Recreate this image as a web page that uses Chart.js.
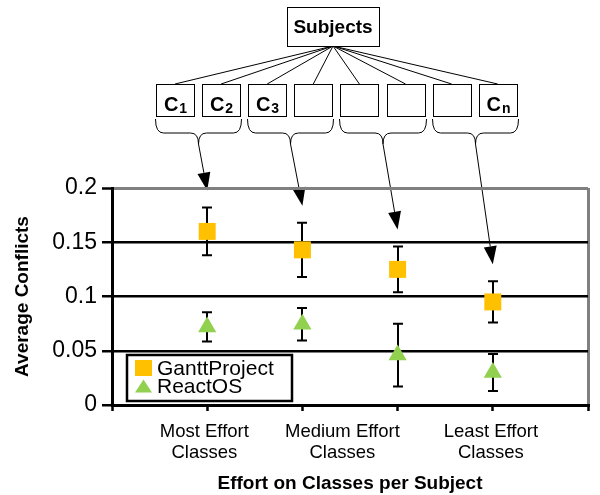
<!DOCTYPE html>
<html>
<head>
<meta charset="utf-8">
<script src="https://cdn.jsdelivr.net/npm/chart.js@4/dist/chart.umd.min.js"></script>
<style>
  html, body { margin: 0; padding: 0; background: #fff; }
  canvas { display: block; }
</style>
</head>
<body>
<canvas id="chart" width="600" height="495"></canvas>
<script>
// ---- data ----
const seriesNames = ['GanttProject', 'ReactOS'];
const groupPositions = [1, 2, 3, 4];
const ganttMeans = [0.160, 0.143, 0.125, 0.095];
const ganttErrors = [0.022, 0.025, 0.021, 0.019];
const reactMeans = [0.072, 0.0745, 0.046, 0.030];
const reactErrors = [0.0135, 0.015, 0.029, 0.017];
const categoryLabels = [['Most Effort', 'Classes'], ['Medium Effort', 'Classes'], ['Least Effort', 'Classes']];
const categoryPositions = [0.97, 2.42, 3.98];
const xMarkTicks = [0, 1, 2, 3, 4, 5];
const yTicks = [0, 0.05, 0.1, 0.15, 0.2];
const rootLabel = 'Subjects';
const classNames = [['C', '1'], ['C', '2'], ['C', '3'], ['', ''], ['', ''], ['', ''], ['', ''], ['C', 'n']];

const FONT = "'Liberation Sans', Arial, Helvetica, sans-serif";
const GANTT_COLOR = '#FFC000';
const REACT_COLOR = '#92D050';

function isMark(v) { return xMarkTicks.some(t => Math.abs(t - v) < 1e-9); }

// subject -> classes diagram above the plot, with arrows into each effort group
const subjectDiagram = {
  id: 'subjectDiagram',
  beforeDraw(chart) {
    const ctx = chart.ctx;
    const xs = chart.scales.x, ys = chart.scales.y;
    ctx.save();
    ctx.fillStyle = '#fff';
    ctx.fillRect(0, 0, chart.width, chart.height);
    ctx.strokeStyle = '#000';
    ctx.fillStyle = '#000';
    ctx.lineWidth = 1;

    const root = { x: 287, y: 7, w: 92, h: 39 };
    const boxTop = 84, boxH = 32, boxW = 38, boxStep = 46.1, boxLeft = 156;
    const hubX = root.x + root.w / 2, hubY = root.y + root.h;

    // fan-out lines
    classNames.forEach((_, i) => {
      const cx = boxLeft + i * boxStep + boxW / 2;
      ctx.beginPath();
      ctx.moveTo(hubX, hubY);
      ctx.lineTo(cx, boxTop);
      ctx.stroke();
    });

    // root box
    ctx.fillStyle = '#fff';
    ctx.fillRect(root.x + 0.5, root.y + 0.5, root.w, root.h);
    ctx.strokeRect(root.x + 0.5, root.y + 0.5, root.w, root.h);
    ctx.fillStyle = '#000';
    ctx.font = 'bold 19px ' + FONT;
    ctx.textAlign = 'center';
    ctx.textBaseline = 'middle';
    ctx.fillText(rootLabel, hubX, root.y + root.h / 2 + 1);

    // class boxes
    classNames.forEach((name, i) => {
      const x = Math.round(boxLeft + i * boxStep) + 0.5;
      ctx.strokeRect(x, boxTop + 0.5, boxW, boxH);
      if (name[0]) {
        ctx.textAlign = 'left';
        ctx.textBaseline = 'alphabetic';
        ctx.font = 'bold 20px ' + FONT;
        const w1 = ctx.measureText(name[0]).width;
        ctx.font = 'bold 14px ' + FONT;
        const w2 = ctx.measureText(name[1]).width;
        const sx = x + boxW / 2 - (w1 + w2 + 1) / 2;
        ctx.font = 'bold 20px ' + FONT;
        ctx.fillText(name[0], sx, boxTop + 27);
        ctx.font = 'bold 14px ' + FONT;
        ctx.fillText(name[1], sx + w1 + 1, boxTop + 29);
      }
    });

    // braces grouping pairs of classes, each with an arrow to its group
    const braceTop = 119, braceMid = 133, braceTip = 144, r = 8;
    for (let g = 0; g < classNames.length / 2; g++) {
      const x0 = Math.round(boxLeft + 2 * g * boxStep) - 0.5;
      const x1 = Math.round(boxLeft + (2 * g + 1) * boxStep) + boxW + 1.5;
      const m = (x0 + x1) / 2;
      ctx.beginPath();
      ctx.moveTo(x0, braceTop);
      ctx.quadraticCurveTo(x0, braceMid, x0 + r, braceMid);
      ctx.lineTo(m - r, braceMid);
      ctx.quadraticCurveTo(m, braceMid, m, braceTip);
      ctx.quadraticCurveTo(m, braceMid, m + r, braceMid);
      ctx.lineTo(x1 - r, braceMid);
      ctx.quadraticCurveTo(x1, braceMid, x1, braceTop);
      ctx.stroke();

      const tx = xs.getPixelForValue(groupPositions[g]);
      const ty = ys.getPixelForValue(ganttMeans[g] + ganttErrors[g]) - 17;
      const a = Math.atan2(ty - braceTip, tx - m);
      const hl = 18, hw = 6.5;
      const bx = tx - hl * Math.cos(a), by = ty - hl * Math.sin(a);
      ctx.beginPath();
      ctx.moveTo(m, braceTip);
      ctx.lineTo(bx, by);
      ctx.stroke();
      ctx.beginPath();
      ctx.moveTo(tx, ty);
      ctx.lineTo(bx - hw * Math.sin(a), by + hw * Math.cos(a));
      ctx.lineTo(bx + hw * Math.sin(a), by - hw * Math.cos(a));
      ctx.closePath();
      ctx.fill();
    }
    ctx.restore();
  }
};

// vertical error bars with caps, drawn beneath the markers
const errorBars = {
  id: 'errorBars',
  beforeDatasetsDraw(chart) {
    const ctx = chart.ctx;
    const xs = chart.scales.x, ys = chart.scales.y;
    ctx.save();
    ctx.strokeStyle = '#000';
    ctx.lineWidth = 2;
    chart.data.datasets.forEach(ds => {
      ds.data.forEach((p, i) => {
        const e = ds.errors[i];
        const x = Math.round(xs.getPixelForValue(p.x));
        const yt = ys.getPixelForValue(p.y + e);
        const yb = ys.getPixelForValue(p.y - e);
        ctx.beginPath();
        ctx.moveTo(x, yt); ctx.lineTo(x, yb);
        ctx.moveTo(x - 5, yt); ctx.lineTo(x + 5, yt);
        ctx.moveTo(x - 5, yb); ctx.lineTo(x + 5, yb);
        ctx.stroke();
      });
    });
    ctx.restore();
  }
};

// boxed legend sitting inside the lower-left of the plot
const boxedLegend = {
  id: 'boxedLegend',
  afterDraw(chart) {
    const ctx = chart.ctx;
    const L = 127, T = 355, W = 165, H = 46;
    ctx.save();
    ctx.fillStyle = '#fff';
    ctx.fillRect(L, T, W, H);
    ctx.strokeStyle = '#000';
    ctx.lineWidth = 2.5;
    ctx.strokeRect(L, T, W, H);
    ctx.font = '21px ' + FONT;
    ctx.textAlign = 'left';
    ctx.textBaseline = 'middle';
    chart.data.datasets.forEach((ds, i) => {
      const cy = T + 13 + i * 18.5;
      ctx.fillStyle = ds.backgroundColor;
      if (ds.pointStyle === 'rect') {
        ctx.fillRect(L + 8, cy - 8, 17, 16);
      } else {
        ctx.beginPath();
        ctx.moveTo(L + 16.5, cy - 7);
        ctx.lineTo(L + 25, cy + 6);
        ctx.lineTo(L + 8, cy + 6);
        ctx.closePath();
        ctx.fill();
      }
      ctx.fillStyle = '#000';
      ctx.fillText(ds.label, L + 30, cy + 1);
    });
    ctx.restore();
  }
};

const xTickValues = [...xMarkTicks, ...categoryPositions].sort((a, b) => a - b);

new Chart(document.getElementById('chart'), {
  type: 'scatter',
  data: {
    datasets: [
      {
        label: seriesNames[0],
        data: groupPositions.map((x, i) => ({ x, y: ganttMeans[i] })),
        errors: ganttErrors,
        pointStyle: 'rect',
        pointRadius: 12,
        pointHoverRadius: 12,
        backgroundColor: GANTT_COLOR,
        borderColor: GANTT_COLOR,
        borderWidth: 0
      },
      {
        label: seriesNames[1],
        data: groupPositions.map((x, i) => ({ x, y: reactMeans[i] })),
        errors: reactErrors,
        pointStyle: 'triangle',
        pointRadius: 10.5,
        pointHoverRadius: 10.5,
        backgroundColor: REACT_COLOR,
        borderColor: REACT_COLOR,
        borderWidth: 0
      }
    ]
  },
  options: {
    responsive: false,
    animation: false,
    devicePixelRatio: 1,
    layout: { padding: { top: 188, right: 9, bottom: 0, left: 0 } },
    plugins: { legend: { display: false }, tooltip: { enabled: false } },
    scales: {
      x: {
        type: 'linear',
        min: 0, max: 5,
        afterBuildTicks: s => { s.ticks = xTickValues.map(v => ({ value: v })); },
        afterFit: s => { s.height = 90; },
        border: { color: '#000', width: 3 },
        grid: {
          color: c => (c.tick && Math.abs(c.tick.value - 5) < 1e-9) ? '#808080' : 'rgba(0,0,0,0)',
          lineWidth: 3,
          tickColor: c => (c.tick && isMark(c.tick.value)) ? '#000' : 'rgba(0,0,0,0)',
          tickWidth: 2.5,
          tickLength: 6
        },
        ticks: {
          autoSkip: false,
          maxRotation: 0,
          minRotation: 0,
          padding: 10,
          color: '#000',
          font: { family: FONT, size: 18.5, lineHeight: 1.16 },
          callback: v => {
            const k = categoryPositions.findIndex(p => Math.abs(p - v) < 1e-9);
            return k >= 0 ? categoryLabels[k] : '';
          }
        },
        title: {
          display: true,
          text: 'Effort on Classes per Subject',
          color: '#000',
          font: { family: FONT, size: 19, weight: 'bold' },
          padding: { top: 0, bottom: 0 }
        }
      },
      y: {
        min: 0, max: 0.2,
        afterBuildTicks: s => { s.ticks = yTicks.map(v => ({ value: v })); },
        afterFit: s => { s.width = 112; },
        border: { color: '#000', width: 3 },
        grid: {
          color: c => (c.tick && Math.abs(c.tick.value - 0.2) < 1e-9) ? '#808080' : '#000',
          lineWidth: c => (c.tick && Math.abs(c.tick.value - 0.2) < 1e-9) ? 3 : 2.5,
          tickColor: '#000',
          tickWidth: 2.5,
          tickLength: 10
        },
        ticks: {
          padding: 5,
          color: '#000',
          font: { family: FONT, size: 23 },
          callback: v => String(Number(Number(v).toFixed(2)))
        },
        title: {
          display: true,
          text: 'Average Conflicts',
          color: '#000',
          font: { family: FONT, size: 19, weight: 'bold' },
          padding: { top: 11, bottom: 0 }
        }
      }
    }
  },
  plugins: [subjectDiagram, errorBars, boxedLegend]
});
</script>
</body>
</html>
